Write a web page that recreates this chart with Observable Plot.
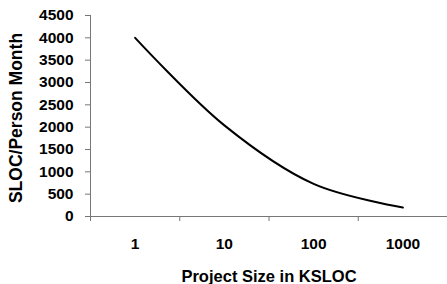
<!DOCTYPE html>
<html>
<head>
<meta charset="utf-8">
<script src="https://cdn.jsdelivr.net/npm/d3@7"></script>
<script src="https://cdn.jsdelivr.net/npm/@observablehq/plot@0.6"></script>
<style>
  html, body { margin: 0; padding: 0; background: white; }
  #chart svg { display: block; }
</style>
</head>
<body>
<div id="chart"></div>
<script>
// Categories (project size, KSLOC) and their tick labels
const sizes = [1, 10, 100, 1000];
const sizeLabels = ["1", "10", "100", "1000"];
// Series: SLOC per person-month
const slocPerPM = [4000, 2040, 730, 200];
// Y-axis tick values
const yTicks = [0, 500, 1000, 1500, 2000, 2500, 3000, 3500, 4000, 4500];
// Category boundaries (tick marks between categories on the log axis)
const xBounds = [1 / Math.sqrt(10), Math.sqrt(10), Math.sqrt(1000), Math.sqrt(100000), Math.sqrt(10000000)];

const xTitle = "Project Size in KSLOC";
const yTitle = "SLOC/Person Month";

const table = sizes.map((s, i) => ({size: s, value: slocPerPM[i]}));
const axisColor = "#777";

const chart = Plot.plot({
  width: 447,
  height: 284,
  marginLeft: 90,
  marginRight: 0,
  marginTop: 15,
  marginBottom: 68,
  style: {
    fontFamily: "'Liberation Sans', Arial, sans-serif",
    fontWeight: "bold",
    background: "white",
    color: "black"
  },
  x: {type: "log", domain: [xBounds[0], xBounds[xBounds.length - 1]], label: null, axis: null},
  y: {domain: [0, 4500], label: null, axis: null},
  marks: [
    // axis lines
    Plot.ruleY([0], {stroke: axisColor, strokeWidth: 1}),
    Plot.ruleX([xBounds[0]], {y1: 0, y2: 4500, stroke: axisColor, strokeWidth: 1}),
    // y ticks and labels
    Plot.axisY(yTicks, {anchor: "left", tickSize: 5, text: null, stroke: axisColor, label: null}),
    Plot.axisY(yTicks, {anchor: "left", tickSize: 0, tickPadding: 17, fontSize: 15.5, fill: "black",
      tickFormat: d => String(d), label: null}),
    // x ticks at category boundaries and centered labels
    Plot.axisX(xBounds, {anchor: "bottom", tickSize: 5, text: null, stroke: axisColor, label: null}),
    Plot.axisX(sizes, {anchor: "bottom", tickSize: 0, tickPadding: 21.5, fontSize: 15.5, fill: "black",
      tickFormat: d => sizeLabels[sizes.indexOf(d)], label: null}),
    // the series
    Plot.line(table, {x: "size", y: "value", curve: "catmull-rom", stroke: "black", strokeWidth: 2}),
    // axis titles
    Plot.text([xTitle], {frameAnchor: "bottom", dy: 54, lineAnchor: "top", textAnchor: "middle",
      fontSize: 16.5, fontWeight: "bold", fill: "black"}),
    Plot.text([yTitle], {frameAnchor: "left", dx: -74.5, dy: 2, rotate: -90, lineAnchor: "middle",
      textAnchor: "middle", fontSize: 17.5, fontWeight: "bold", fill: "black"})
  ]
});

document.getElementById("chart").appendChild(chart);
</script>
</body>
</html>
